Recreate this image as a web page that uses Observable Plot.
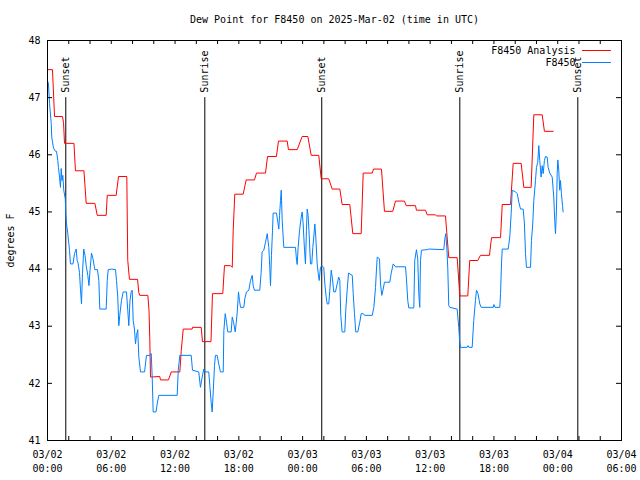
<!DOCTYPE html>
<html><head><meta charset="utf-8">
<script src="https://cdn.jsdelivr.net/npm/d3@7"></script>
<script src="https://cdn.jsdelivr.net/npm/@observablehq/plot@0.6"></script>
<style>html,body{margin:0;padding:0;background:#fff}svg{display:block}</style>
</head><body><div id="chart"></div>
<script>
const titleText = "Dew Point for F8450 on 2025-Mar-02 (time in UTC)";
const yLabel = "degrees F";
const seriesNames = ["F8450 Analysis", "F8450"];
const seriesColors = ["#ff0000", "#0080ff"];

// hours since 2025-03-02 00:00 UTC
const analysisHours = [0,0.47,0.66,1.41,1.51,1.60,2.49,2.63,3.43,3.64,4.46,4.68,5.52,5.62,6.46,6.68,7.46,7.55,7.71,8.47,8.59,8.68,9.44,9.55,9.62,9.69,10.56,10.63,11.38,11.64,12.45,12.58,12.77,13.61,13.64,14.46,14.58,15.38,15.52,16.49,16.65,17.22,17.38,17.47,17.62,18.41,18.69,19.47,19.66,20.51,20.70,21.54,21.73,22.55,22.67,23.49,23.96,24.49,24.81,25.52,25.75,26.46,26.78,27.50,27.72,28.44,28.72,29.51,29.70,30.55,30.67,31.42,31.70,32.48,32.74,33.58,33.74,34.62,34.71,35.56,35.72,36.50,36.59,37.44,37.75,38.54,38.79,39.54,39.72,40.48,40.73,41.58,41.77,42.62,42.78,43.56,43.81,44.56,44.81,45.50,45.75,46.54,46.75,47.57];
const analysisValues = [47.49,47.49,46.67,46.67,46.56,46.20,46.20,45.72,45.72,45.15,45.15,44.94,44.94,45.29,45.29,45.62,45.62,44.15,43.82,43.82,43.59,43.54,43.54,43.28,42.80,42.11,42.12,42.06,42.06,42.20,42.20,42.57,42.95,42.95,42.98,42.98,42.73,42.73,43.57,43.57,44.06,44.06,44.03,44.67,45.31,45.31,45.56,45.56,45.68,45.68,45.97,45.97,46.24,46.24,46.09,46.09,46.32,46.32,45.99,45.99,45.58,45.58,45.40,45.40,45.13,45.13,44.62,44.62,45.68,45.68,45.75,45.75,45.01,45.01,45.19,45.19,45.11,45.11,45.03,45.03,44.95,44.95,44.93,44.93,44.20,44.20,43.53,43.53,44.15,44.15,44.24,44.24,44.55,44.55,45.13,45.13,45.85,45.85,45.43,45.43,46.70,46.70,46.41,46.41];

const obsHours = [0,0.09,0.19,0.35,0.40,0.56,0.75,0.85,0.97,1.03,1.13,1.22,1.29,1.36,1.44,1.53,1.67,1.72,1.79,1.91,2.07,2.16,2.40,2.54,2.70,2.79,2.87,3.01,3.10,3.20,3.29,3.41,3.53,3.64,3.79,3.90,4.00,4.14,4.28,4.45,4.70,4.83,4.92,5.52,5.62,5.71,6.02,6.40,6.49,6.61,6.71,6.80,6.96,7.12,7.43,7.55,7.65,7.76,7.87,7.97,8.06,8.18,8.28,8.37,8.49,8.59,8.75,9.13,9.31,9.64,9.76,9.85,9.94,10.21,10.32,10.47,12.20,12.30,12.45,13.52,13.64,14.23,14.39,14.55,14.70,14.86,15.17,15.27,15.40,15.49,15.60,15.71,15.80,15.96,16.11,16.27,16.53,16.59,16.72,16.84,16.96,17.28,17.38,17.50,17.66,17.75,17.85,17.97,18.06,18.16,18.47,18.56,18.72,18.94,19.10,19.26,19.35,19.47,19.97,20.10,20.19,20.35,20.51,20.67,20.82,20.91,20.98,21.07,21.17,21.23,21.54,21.67,21.76,21.83,21.92,21.99,22.08,22.23,23.33,23.43,23.49,23.58,23.71,23.87,23.96,24.05,24.18,24.27,24.36,24.43,24.52,24.62,24.74,24.86,24.96,25.05,25.15,25.24,25.37,25.47,25.56,25.68,25.80,25.99,26.09,26.22,26.31,26.46,26.56,26.69,26.81,26.93,27.09,27.25,27.40,27.50,27.59,27.72,27.97,28.06,28.19,28.32,28.67,28.76,28.88,29.00,29.19,29.38,29.51,29.70,29.82,30.55,30.70,30.86,30.95,31.02,31.23,31.33,31.45,31.58,31.70,32.20,32.33,32.52,32.74,33.68,33.77,33.89,33.99,34.46,34.55,34.71,34.83,34.93,35.02,35.09,35.18,35.72,35.87,37.28,37.38,37.47,37.58,37.66,37.75,37.85,38.54,38.69,38.79,38.85,39.48,39.56,39.65,39.95,40.10,40.26,40.36,40.50,40.67,40.80,41.93,42.00,42.10,42.55,42.62,42.71,42.78,43.34,43.49,43.62,43.72,44.03,44.19,44.34,44.50,44.75,44.87,44.97,45.06,45.44,45.53,45.65,45.75,45.91,46.00,46.12,46.22,46.31,46.44,46.54,46.63,46.75,46.85,47.01,47.10,47.25,47.48,47.63,47.72,47.79,47.88,47.95,48.01,48.10,48.19,48.26,48.35,48.45,48.51];
const obsValues = [47.30,47.24,46.90,46.55,46.31,46.12,46.06,46.06,45.90,45.78,45.61,45.43,45.76,45.55,45.64,45.38,45.23,44.97,44.79,44.62,44.33,44.09,44.09,44.27,44.35,44.15,44.11,43.94,43.65,43.39,43.92,44.35,44.24,44.06,43.89,43.71,43.98,44.28,44.18,43.99,43.99,43.80,43.30,43.30,43.80,43.99,44.00,43.99,43.80,43.51,43.01,43.19,43.45,43.60,43.60,43.28,43.01,43.45,43.60,43.63,43.10,42.95,42.69,42.84,42.94,42.46,42.20,42.20,42.49,42.49,42.52,42.11,41.50,41.50,41.64,41.79,41.79,42.23,42.49,42.49,42.23,42.20,41.93,42.11,42.25,42.20,42.20,41.96,41.66,41.50,41.88,42.31,42.49,42.49,42.34,42.20,42.20,42.92,43.22,43.07,42.90,42.90,43.16,43.07,42.90,43.05,43.25,43.60,43.45,43.33,43.33,43.48,43.60,43.63,43.80,43.89,43.71,43.63,43.63,43.94,44.30,44.33,44.47,44.62,44.38,44.03,43.71,44.24,44.68,44.98,44.98,44.82,44.70,44.94,45.20,45.38,44.85,44.38,44.38,44.15,44.08,44.38,44.67,44.91,45.00,44.79,44.33,44.09,44.67,45.05,44.94,44.59,44.09,44.09,44.38,44.56,44.79,44.56,44.09,43.92,43.80,44.03,44.06,44.03,43.74,43.51,43.39,43.39,43.63,43.98,43.83,43.60,43.60,43.74,43.86,43.80,43.19,42.90,42.90,43.28,43.63,43.93,43.89,43.57,43.22,42.90,42.90,43.07,43.22,43.22,43.19,43.19,43.33,43.68,44.00,44.21,44.18,43.74,43.54,43.65,43.77,43.77,43.92,44.09,44.04,44.04,43.83,43.45,43.32,43.32,44.15,44.34,44.18,43.57,43.33,44.15,44.33,44.34,44.35,44.34,44.53,44.62,44.33,44.00,43.36,43.33,43.30,42.98,42.71,42.63,42.63,42.66,42.63,42.63,43.10,43.45,43.63,43.57,43.39,43.33,43.33,43.38,43.33,43.33,43.57,44.09,44.35,44.35,44.56,44.97,45.38,45.35,45.32,45.17,45.05,45.05,44.79,44.27,44.03,44.03,44.50,44.79,45.20,45.55,45.78,45.87,46.16,45.90,45.61,45.81,45.67,45.90,45.97,45.96,45.78,45.68,45.61,45.26,44.85,44.62,45.03,45.67,45.91,45.72,45.38,45.55,45.32,45.11,45.00];

const sunEventHours = [1.72, 14.80, 25.80, 38.79, 49.89];
const sunEventLabels = ["Sunset", "Sunrise", "Sunset", "Sunrise", "Sunset"];
const sunLineTop = 47;

const xDomain = [0, 54];
const yDomain = [41, 48];
const xTickHours = [0, 6, 12, 18, 24, 30, 36, 42, 48, 54];
const xTickLabels = ["03/02\n00:00","03/02\n06:00","03/02\n12:00","03/02\n18:00","03/03\n00:00","03/03\n06:00","03/03\n12:00","03/03\n18:00","03/04\n00:00","03/04\n06:00"];
const xMinorTickHours = [0,2,4,6,8,10,12,14,16,18,20,22,24,26,28,30,32,34,36,38,40,42,44,46,48,50,52,54];
const yTicks = [41, 42, 43, 44, 45, 46, 47, 48];

const analysis = analysisHours.map((h, i) => ({h, v: analysisValues[i]}));
const obs = obsHours.map((h, i) => ({h, v: obsValues[i]}));
const sun = sunEventHours.map((h, i) => ({h, label: sunEventLabels[i]}));

const lineShape = {draw(context, l) { context.moveTo(0, 0); context.lineTo(0, -l); }};
const font = "'DejaVu Sans Mono', monospace";

const chart = Plot.plot({
  width: 640, height: 480,
  marginLeft: 47, marginRight: 19, marginTop: 40, marginBottom: 40,
  style: {fontFamily: font, fontSize: "10px", background: "white", color: "black", overflow: "visible"},
  x: {domain: xDomain},
  y: {domain: yDomain},
  marks: [
    Plot.ruleX(sun, {x: "h", y1: yDomain[0], y2: sunLineTop, stroke: "black", strokeWidth: 1}),
    Plot.text(sun, {x: "h", y: sunLineTop, text: "label", rotate: -90, textAnchor: "start", lineAnchor: "middle", dy: -5, fill: "black"}),
    Plot.line(analysis, {x: "h", y: "v", stroke: seriesColors[0], strokeWidth: 1}),
    Plot.line(obs, {x: "h", y: "v", stroke: seriesColors[1], strokeWidth: 1}),
    Plot.tickX(xMinorTickHours, {x: d => d, insetTop: 396, stroke: "black"}),
    Plot.tickX(xMinorTickHours, {x: d => d, insetBottom: 396, stroke: "black"}),
    Plot.tickY(yTicks, {y: d => d, insetRight: 569, stroke: "black"}),
    Plot.tickY(yTicks, {y: d => d, insetLeft: 569, stroke: "black"}),
    Plot.frame({stroke: "black"}),
    Plot.axisX(xTickHours, {tickSize: 0, tickPadding: 8, lineHeight: 1.4, label: null, tickFormat: d => xTickLabels[xTickHours.indexOf(d)]}),
    Plot.axisY(yTicks, {tickSize: 0, tickPadding: 7, label: null, tickFormat: d => String(d)}),
    Plot.text([titleText], {frameAnchor: "top", dy: -21, lineAnchor: "middle", text: d => d, fill: "black"}),
    Plot.text([yLabel], {frameAnchor: "left", dx: -37, rotate: -90, textAnchor: "middle", lineAnchor: "middle", text: d => d, fill: "black"}),
    Plot.text([seriesNames[0]], {frameAnchor: "top-right", dx: -46, dy: 10, textAnchor: "end", lineAnchor: "middle", text: d => d, fill: "black"}),
    Plot.text([seriesNames[1]], {frameAnchor: "top-right", dx: -46, dy: 22, textAnchor: "end", lineAnchor: "middle", text: d => d, fill: "black"}),
    Plot.vector([seriesNames[0]], {frameAnchor: "top-right", dx: -39, dy: 10, length: 28, rotate: 90, anchor: "start", shape: lineShape, stroke: seriesColors[0], strokeWidth: 1}),
    Plot.vector([seriesNames[1]], {frameAnchor: "top-right", dx: -39, dy: 22, length: 28, rotate: 90, anchor: "start", shape: lineShape, stroke: seriesColors[1], strokeWidth: 1})
  ]
});
document.getElementById("chart").appendChild(chart);
</script>
</body></html>
